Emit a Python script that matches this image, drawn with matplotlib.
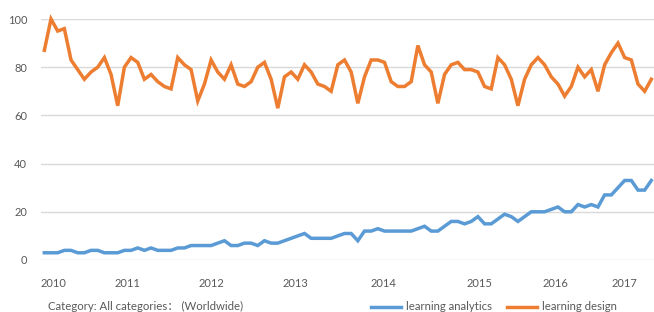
import numpy as np
import matplotlib
matplotlib.use("Agg")
import matplotlib.pyplot as plt

plt.rcParams['font.family'] = ['Lato', 'Noto Sans CJK SC', 'DejaVu Sans']

# monthly search interest
learning_design = [87, 100, 95, 96, 83, 79, 75, 78, 80, 84, 77, 64, 80, 84, 82, 75,
                   77, 74, 72, 71, 84, 81, 79, 66, 73, 83, 78, 75, 81, 73, 72, 74,
                   80, 82, 75, 63, 76, 78, 75, 81, 78, 73, 72, 70, 81, 83, 78, 65,
                   76, 83, 83, 82, 74, 72, 72, 74, 89, 81, 78, 65, 77, 81, 82, 79,
                   79, 78, 72, 71, 84, 81, 75, 64, 75, 81, 84, 81, 76, 73, 68, 72,
                   80, 76, 79, 70, 81, 86, 90, 84, 83, 73, 70, 75]
learning_analytics = [3, 3, 3, 4, 4, 3, 3, 4, 4, 3, 3, 3, 4, 4, 5, 4,
                      5, 4, 4, 4, 5, 5, 6, 6, 6, 6, 7, 8, 6, 6, 7, 7,
                      6, 8, 7, 7, 8, 9, 10, 11, 9, 9, 9, 9, 10, 11, 11, 8,
                      12, 12, 13, 12, 12, 12, 12, 12, 13, 14, 12, 12, 14, 16, 16, 15,
                      16, 18, 15, 15, 17, 19, 18, 16, 18, 20, 20, 20, 21, 22, 20, 20,
                      23, 22, 23, 22, 27, 27, 30, 33, 33, 29, 29, 33]
year_labels = ['2010', '2011', '2012', '2013', '2014', '2015', '2016', '2017']
year_pos = [1.4, 12.5, 25.1, 37.7, 50.8, 65.3, 76.6, 86.9]

x = np.arange(len(learning_design))
grey = '#595959'

fig = plt.figure(figsize=(6.54, 3.12), dpi=100)
ax = fig.add_axes([41/654, 52/312, 613/654, 241/312])

ax.plot(x, learning_analytics, color='#5B9BD5', lw=2.5, label='learning analytics',
        solid_joinstyle='miter', clip_on=False, zorder=3)
ax.plot(x, learning_design, color='#ED7D31', lw=2.5, label='learning design',
        solid_joinstyle='miter', clip_on=False, zorder=3)

ax.set_xlim(-0.5, 91.4)
ax.set_ylim(0, 100)
ax.set_yticks([0, 20, 40, 60, 80, 100])
ax.set_xticks(year_pos, year_labels)
ax.yaxis.grid(True, color='#d9d9d9', lw=1)
ax.set_axisbelow(True)
for s in ax.spines.values():
    s.set_visible(False)
ax.tick_params(length=0, labelsize=8, labelcolor=grey)
ax.tick_params(axis='y', pad=10)
ax.tick_params(axis='x', pad=13)

fig.text(48/654, 6/312, 'Category: All categories： (Worldwide)', fontsize=8.2,
         color=grey, va='center', ha='left')

fig.legend(loc='center left', bbox_to_anchor=(371/654, 5/312), ncol=2, frameon=False,
           fontsize=8.2, labelcolor=grey, handlelength=2.6, columnspacing=1.3,
           handletextpad=0.5, borderaxespad=0, borderpad=0)

fig.savefig('out.png', dpi=100)
